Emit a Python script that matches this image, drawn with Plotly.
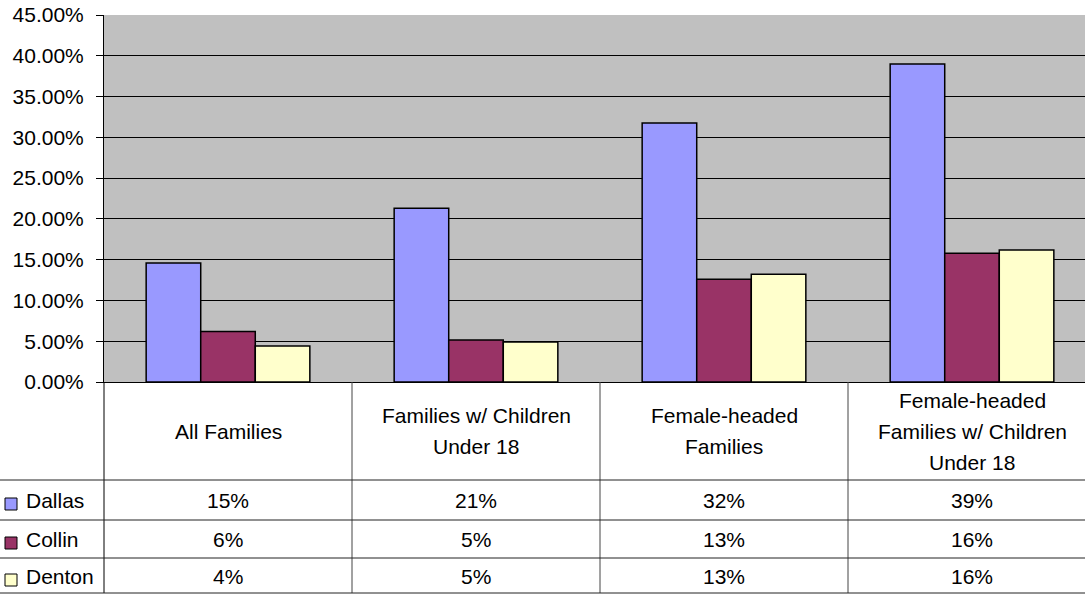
import plotly.graph_objects as go

categories = ["All Families", "Families w/ Children\nUnder 18",
              "Female-headed\nFamilies", "Female-headed\nFamilies w/ Children\nUnder 18"]
series_names = ["Dallas", "Collin", "Denton"]
dallas = [0.146, 0.213, 0.3175, 0.390]
collin = [0.062, 0.0515, 0.126, 0.158]
denton = [0.044, 0.049, 0.132, 0.162]
colors = ["#9999FF", "#993366", "#FFFFCC"]
y_ticks = [0, 0.05, 0.10, 0.15, 0.20, 0.25, 0.30, 0.35, 0.40, 0.45]

W, H = 1085, 595
L, T, B = 104, 15, 382          # plot area pixel edges
PH = B - T
FONT = "Liberation Sans, Arial, sans-serif"
FS = 21

def py(p):   # pixel y -> paper y
    return (B - p) / PH

def px(p):   # pixel x -> paper x
    return (p - L) / (W - L)

col_w = 248.0
x_right = -0.5 + (W - L) / col_w

fig = go.Figure()
xs = list(range(len(categories)))
for name, vals, c in zip(series_names, [dallas, collin, denton], colors):
    fig.add_trace(go.Bar(x=xs, y=vals, name=name, marker=dict(color=c, line=dict(color="#000000", width=1.5)),
                         showlegend=False))

shapes = []
annotations = []

# table vertical lines
for xv in [0.5, 1.5, 2.5]:
    shapes.append(dict(type="line", xref="x", yref="paper", x0=xv, x1=xv, y0=py(B), y1=py(593),
                       line=dict(color="#444444", width=1)))
shapes.append(dict(type="line", xref="paper", yref="paper", x0=0, x1=0, y0=py(B), y1=py(593),
                   line=dict(color="#000000", width=1)))
# table horizontal lines
for hy in [480, 520, 558, 593]:
    shapes.append(dict(type="line", xref="paper", yref="paper", x0=px(0), x1=1, y0=py(hy), y1=py(hy),
                       line=dict(color="#222222", width=1)))

# category labels
line_sp = 31
for i, cat in enumerate(categories):
    lines = cat.split("\n")
    n = len(lines)
    for j, ln in enumerate(lines):
        cy = 431 + (j - (n - 1) / 2) * line_sp
        annotations.append(dict(x=i, y=py(cy), xref="x", yref="paper", text=ln, showarrow=False,
                                font=dict(family=FONT, size=FS, color="#000"), xanchor="center", yanchor="middle"))

# data rows
row_centers = [500, 539, 576]
for r, (name, vals, c) in enumerate(zip(series_names, [dallas, collin, denton], colors)):
    cy = row_centers[r]
    shapes.append(dict(type="rect", xref="paper", yref="paper", x0=px(5), x1=px(17),
                       y0=py(cy + 10), y1=py(cy - 2), fillcolor=c, line=dict(color="#000", width=1)))
    annotations.append(dict(x=px(24), y=py(cy), xref="paper", yref="paper", text=name, showarrow=False,
                            font=dict(family=FONT, size=FS, color="#000"), xanchor="left", yanchor="middle"))
    for i, v in enumerate(vals):
        annotations.append(dict(x=i, y=py(cy), xref="x", yref="paper", text=f"{round(v*100):.0f}%",
                                showarrow=False, font=dict(family=FONT, size=FS, color="#000"),
                                xanchor="center", yanchor="middle"))

fig.update_layout(
    width=W, height=H,
    margin=dict(l=L, r=0, t=T, b=H - B, pad=0),
    paper_bgcolor="white", plot_bgcolor="#C0C0C0",
    barmode="group", bargap=0.34, bargroupgap=0,
    font=dict(family=FONT, size=FS, color="#000"),
    shapes=shapes, annotations=annotations,
    xaxis=dict(range=[-0.5, x_right], showticklabels=False, showgrid=False, zeroline=False,
               showline=True, linecolor="#000", linewidth=1, ticks=""),
    yaxis=dict(range=[0, 0.45], tickvals=y_ticks, tickformat=".2%", showgrid=True, gridcolor="#000000",
               gridwidth=1, zeroline=False, showline=True, linecolor="#000", linewidth=1,
               ticks="outside", ticklen=7, tickcolor="#000", ticklabelstandoff=8,
               tickfont=dict(family=FONT, size=FS, color="#000")),
)

fig.write_html("out.html")
